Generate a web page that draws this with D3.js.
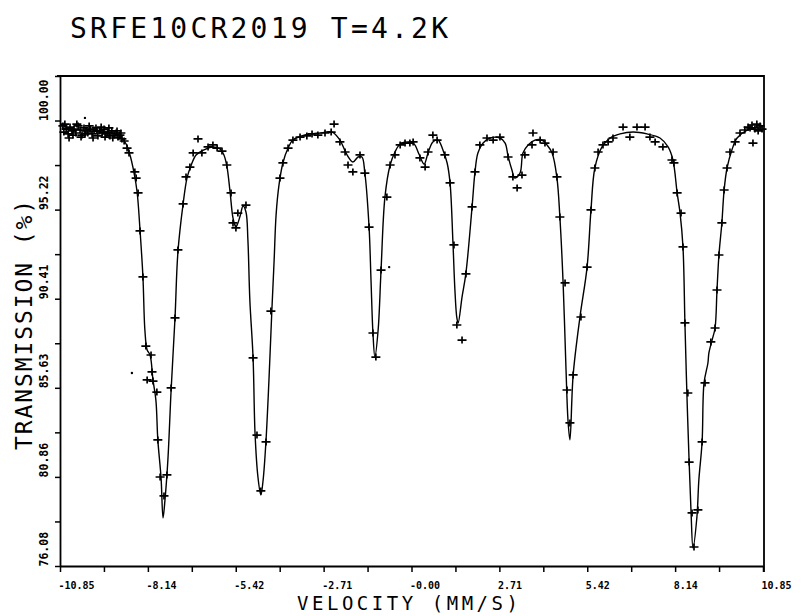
<!DOCTYPE html>
<html>
<head>
<meta charset="utf-8">
<script src="https://d3js.org/d3.v7.min.js"></script>
<style>
body { margin: 0; background: #fff; }
</style>
</head>
<body>
<script>
// labels
const title = "SRFE10CR2019 T=4.2K";
const xTitle = "VELOCITY (MM/S)";
const yTitle = "TRANSMISSION (%)";
const xTickLabels = ["-10.85", "-8.14", "-5.42", "-2.71", "-0.00", "2.71", "5.42", "8.14", "10.85"];
const yTickLabels = ["76.08", "80.86", "85.63", "90.41", "95.22", "100.00"];

// fitted curve [velocity mm/s, transmission %]
const fitCurve = [
  [-10.79, 99.60], [-10.23, 99.49], [-9.62, 99.38], [-9.15, 99.28], [-8.94, 99.06], [-8.81, 98.74],
  [-8.69, 98.15], [-8.57, 97.24], [-8.47, 96.16], [-8.38, 94.12], [-8.29, 91.60], [-8.23, 88.75],
  [-8.16, 87.68], [-8.07, 87.41], [-7.98, 86.07], [-7.89, 84.99], [-7.83, 82.85], [-7.73, 80.80],
  [-7.67, 78.66], [-7.61, 79.62], [-7.52, 81.77], [-7.42, 85.53], [-7.30, 89.40], [-7.21, 92.94],
  [-7.05, 95.52], [-6.93, 96.91], [-6.81, 97.56], [-6.65, 98.15], [-6.41, 98.42], [-6.16, 98.58],
  [-5.91, 98.47], [-5.79, 98.15], [-5.70, 97.56], [-5.60, 96.16], [-5.51, 94.77], [-5.42, 94.28],
  [-5.29, 94.87], [-5.20, 95.41], [-5.11, 95.09], [-5.05, 93.59], [-4.99, 90.36], [-4.89, 87.25],
  [-4.83, 83.22], [-4.74, 80.86], [-4.65, 79.89], [-4.58, 80.70], [-4.49, 82.85], [-4.40, 86.07],
  [-4.31, 89.83], [-4.24, 92.51], [-4.18, 94.93], [-4.09, 96.54], [-3.97, 97.72], [-3.81, 98.52],
  [-3.66, 98.95], [-3.29, 99.22], [-2.82, 99.33], [-2.45, 99.38], [-2.21, 98.95], [-1.99, 98.15],
  [-1.81, 97.77], [-1.65, 98.04], [-1.53, 98.04], [-1.44, 97.18], [-1.31, 94.28], [-1.25, 91.44],
  [-1.19, 88.59], [-1.13, 87.30], [-1.03, 88.75], [-0.94, 91.97], [-0.82, 95.89], [-0.66, 97.61],
  [-0.51, 98.31], [-0.35, 98.74], [-0.11, 98.85], [0.08, 98.74], [0.23, 98.20], [0.39, 97.66],
  [0.51, 98.26], [0.66, 98.85], [0.82, 98.95], [0.97, 98.42], [1.10, 97.72], [1.19, 96.65],
  [1.28, 93.42], [1.34, 90.90], [1.40, 89.40], [1.44, 89.13], [1.56, 90.52], [1.68, 91.81],
  [1.87, 95.36], [1.96, 97.24], [2.05, 98.26], [2.21, 98.79], [2.42, 99.06], [2.73, 99.06],
  [2.89, 98.79], [2.98, 98.09], [3.10, 97.34], [3.19, 96.91], [3.35, 97.18], [3.44, 98.26],
  [3.60, 98.69], [3.81, 98.95], [4.03, 98.95], [4.18, 98.69], [4.34, 98.26], [4.49, 96.91],
  [4.58, 94.82], [4.68, 91.27], [4.77, 86.60], [4.83, 83.92], [4.89, 82.85], [4.99, 86.34],
  [5.20, 89.45], [5.42, 92.13], [5.54, 95.20], [5.66, 97.45], [5.88, 98.58], [6.13, 99.06],
  [6.44, 99.28], [6.84, 99.38], [7.27, 99.28], [7.67, 99.06], [7.92, 98.58], [8.07, 97.88],
  [8.20, 96.11], [8.29, 95.03], [8.38, 93.21], [8.44, 89.13], [8.50, 85.37], [8.57, 81.66],
  [8.63, 78.93], [8.69, 77.05], [8.81, 78.71], [8.87, 80.70], [8.97, 82.74], [9.03, 85.91],
  [9.15, 86.98], [9.18, 87.52], [9.28, 88.22], [9.37, 88.86], [9.43, 90.90], [9.49, 92.78],
  [9.58, 94.50], [9.65, 96.27], [9.74, 97.45], [9.89, 98.42], [10.05, 99.06], [10.36, 99.49],
  [10.76, 99.65], [10.85, 99.65]
];

// measured points [velocity mm/s, transmission %]
const counts = [
  [-10.76, 99.71], [-10.73, 99.38], [-10.66, 99.54], [-10.60, 99.28], [-10.54, 99.65], [-10.48, 99.44],
  [-10.42, 99.54], [-10.36, 99.33], [-10.29, 99.71], [-10.23, 99.49], [-10.17, 99.22], [-10.11, 99.60],
  [-10.05, 99.44], [-9.99, 99.33], [-9.92, 99.54], [-9.86, 99.28], [-9.80, 99.49], [-9.74, 99.60],
  [-9.68, 99.17], [-9.62, 99.44], [-9.55, 99.33], [-9.49, 99.54], [-9.43, 99.28], [-9.37, 99.38],
  [-9.31, 99.17], [-9.25, 99.44], [-9.18, 99.22], [-9.12, 99.33], [-9.06, 99.11], [-9.00, 99.22],
  [-8.94, 99.01], [-8.87, 98.90],
  [-10.70, 99.81], [-10.57, 99.06], [-10.45, 99.22], [-10.33, 99.81], [-10.20, 99.11], [-10.08, 99.28],
  [-9.95, 99.71], [-9.83, 99.06], [-9.71, 99.44], [-9.58, 99.65], [-9.46, 99.11], [-9.34, 99.60],
  [-9.22, 99.06], [-9.09, 99.44], [-8.97, 99.33],
  [-8.78, 98.52], [-8.72, 98.26], [-8.54, 97.24], [-8.50, 96.91], [-8.44, 96.11], [-8.38, 94.07],
  [-8.29, 91.60], [-8.20, 87.89], [-8.04, 87.41], [-8.01, 86.50], [-8.16, 86.07], [-7.98, 86.01],
  [-7.86, 85.42], [-7.83, 82.85], [-7.76, 80.86], [-7.64, 79.84], [-7.55, 80.97], [-7.42, 85.64],
  [-7.30, 89.40], [-7.21, 93.05], [-7.05, 95.52], [-6.96, 96.97], [-6.84, 97.50], [-6.74, 98.26],
  [-6.59, 99.01], [-6.47, 98.26], [-6.28, 98.58], [-6.13, 98.69], [-6.00, 98.52], [-5.85, 98.36],
  [-5.70, 97.61], [-5.57, 96.11], [-5.51, 94.50], [-5.42, 94.23], [-5.36, 95.03], [-5.11, 95.46],
  [-4.89, 87.25], [-4.77, 83.11], [-4.65, 80.11], [-4.49, 82.74], [-4.34, 89.77], [-4.06, 96.91],
  [-3.97, 97.72], [-3.81, 98.52], [-3.66, 98.95], [-3.44, 99.11], [-3.23, 99.17], [-3.07, 99.28],
  [-2.89, 99.22], [-2.67, 99.33], [-2.48, 99.38], [-2.39, 99.81],
  [-2.21, 98.85], [-2.05, 98.31], [-1.96, 97.61], [-1.81, 97.24], [-1.59, 98.15], [-1.44, 97.18],
  [-1.31, 94.28], [-1.19, 88.59], [-1.10, 87.30], [-0.94, 91.97], [-0.76, 95.89], [-0.66, 97.61],
  [-0.51, 98.15], [-0.35, 98.69], [-0.20, 98.79], [-0.05, 98.79], [0.05, 98.85], [0.26, 97.99],
  [0.42, 97.50], [0.51, 98.31], [0.66, 99.22], [0.79, 98.95], [1.03, 98.15], [1.19, 96.65],
  [1.31, 93.32], [1.40, 89.02], [1.56, 88.21], [1.68, 91.76], [1.87, 95.36], [1.96, 97.24],
  [2.11, 98.69], [2.33, 99.06], [2.52, 98.95], [2.73, 99.11], [2.98, 98.04], [3.13, 96.97],
  [3.26, 96.38], [3.41, 97.07], [3.50, 98.15], [3.72, 98.69], [3.75, 99.33], [3.97, 98.95],
  [4.12, 98.79], [4.37, 98.31], [4.49, 96.97], [4.58, 94.82], [4.74, 91.28],
  [4.80, 85.53], [4.89, 83.76], [4.99, 86.34], [5.23, 89.45], [5.42, 92.13], [5.54, 95.20],
  [5.66, 97.45], [5.76, 98.31], [5.91, 98.69], [6.07, 98.85], [6.22, 99.06], [6.53, 99.65],
  [6.74, 99.11], [6.96, 99.65], [7.21, 99.65], [7.36, 99.11], [7.52, 98.85], [7.76, 98.58],
  [8.04, 97.88], [8.10, 97.72], [8.20, 96.11], [8.32, 95.03], [8.38, 93.21], [8.44, 89.13],
  [8.53, 85.37], [8.57, 81.66], [8.66, 78.93], [8.72, 77.10], [8.84, 79.09], [8.97, 82.74],
  [9.06, 85.91], [9.24, 88.11], [9.37, 88.86], [9.43, 90.90], [9.49, 92.78], [9.58, 94.50],
  [9.65, 96.27], [9.74, 97.45], [9.83, 98.31], [9.99, 98.85], [10.14, 99.33], [10.45, 99.60],
  [10.54, 98.79], [10.29, 99.49], [10.39, 99.65], [10.51, 99.76], [10.60, 99.54], [10.66, 99.81],
  [10.70, 99.44], [10.76, 99.71], [10.82, 99.54]
];

// stray pen marks
const specks = [[-8.63, 86.44], [-0.69, 92.13], [-10.08, 100.14]];

const width = 804, height = 616;
const xMin = -10.85, xMax = 10.85, yMin = 76.08, yMax = 102.39;

const svg = d3.select("body").append("svg")
    .attr("width", width)
    .attr("height", height)
    .attr("viewBox", [0, 0, width, height])
    .style("font-family", "'DejaVu Sans Mono', monospace");

svg.append("rect").attr("width", width).attr("height", height).attr("fill", "#fff");

let x = d3.scaleLinear().domain([xMin, xMax]).range([60, 763]);
let y = d3.scaleLinear().domain([yMin, yMax]).range([566, 76]);

let xTicks = d3.range(17).map(i => xMin + i * (xMax - xMin) / 16);
let yTicks = d3.range(12).map(i => yMin + i * 2.392);

// x axis
let xAxis = svg.append("g")
    .attr("transform", "translate(0," + y(yMin) + ")")
    .call(d3.axisBottom(x)
        .tickValues(xTicks)
        .tickSizeInner(6)
        .tickSizeOuter(0)
        .tickFormat((d, i) => i % 2 == 0 ? xTickLabels[i / 2] : ""));
xAxis.select(".domain").attr("stroke-width", 1.8);
xAxis.selectAll(".tick line").attr("stroke-width", 1.5);
xAxis.selectAll(".tick text")
    .attr("text-anchor", "start")
    .attr("x", -2)
    .attr("y", 23)
    .attr("dy", 0)
    .attr("fill", "#000")
    .attr("font-family", "'DejaVu Sans Mono', monospace")
    .attr("font-weight", "bold")
    .attr("font-size", "10px");

// y axis
let yAxis = svg.append("g")
    .attr("transform", "translate(" + x(xMin) + ",0)")
    .call(d3.axisLeft(y)
        .tickValues(yTicks)
        .tickSizeInner(5)
        .tickSizeOuter(0)
        .tickFormat((d, i) => i % 2 == 0 ? yTickLabels[i / 2] : ""));
yAxis.select(".domain").attr("stroke-width", 1.8);
yAxis.selectAll(".tick line").attr("stroke-width", 1.5);
yAxis.selectAll(".tick text")
    .attr("text-anchor", "start")
    .attr("transform", "rotate(-90)")
    .attr("x", 0)
    .attr("y", -12)
    .attr("dy", 0)
    .attr("fill", "#000")
    .attr("font-family", "'DejaVu Sans Mono', monospace")
    .attr("font-weight", "bold")
    .attr("font-size", "11.5px");

// frame top and right
svg.append("path")
    .attr("d", d3.line()([[x(xMin) - 3, y(yMax)], [x(xMax) + 1, y(yMax)], [x(xMax) + 1, y(yMin) + 6]]))
    .attr("fill", "none")
    .attr("stroke", "#000")
    .attr("stroke-width", 1.8);

// fitted curve
let line = d3.line()
    .x(d => x(d[0]))
    .y(d => y(d[1]))
    .curve(d3.curveCatmullRom.alpha(0.5));
svg.append("path")
    .datum(fitCurve)
    .attr("d", line)
    .attr("fill", "none")
    .attr("stroke", "#000")
    .attr("stroke-width", 1.4);

// data crosses
svg.append("g").selectAll("path")
    .data(counts)
    .join("path")
    .attr("transform", d => "translate(" + x(d[0]) + "," + y(d[1]) + ")")
    .attr("d", "M-4.5,0H4.5M0,-3.5V3.5")
    .attr("stroke", "#000")
    .attr("stroke-width", 1.7)
    .attr("fill", "none");

svg.append("g").selectAll("circle")
    .data(specks)
    .join("circle")
    .attr("cx", d => x(d[0]))
    .attr("cy", d => y(d[1]))
    .attr("r", 1.2)
    .attr("fill", "#000");

// titles
svg.append("text")
    .attr("x", 70)
    .attr("y", 38)
    .attr("font-size", "28px")
    .attr("textLength", 378)
    .attr("lengthAdjust", "spacing")
    .attr("fill", "#000")
    .text(title);

svg.append("text")
    .attr("x", 297)
    .attr("y", 610)
    .attr("font-size", "19px")
    .attr("textLength", 221)
    .attr("lengthAdjust", "spacing")
    .attr("fill", "#000")
    .text(xTitle);

svg.append("text")
    .attr("transform", "translate(32,450) rotate(-90)")
    .attr("font-size", "23px")
    .attr("textLength", 250)
    .attr("lengthAdjust", "spacing")
    .attr("fill", "#000")
    .text(yTitle);
</script>
</body>
</html>
